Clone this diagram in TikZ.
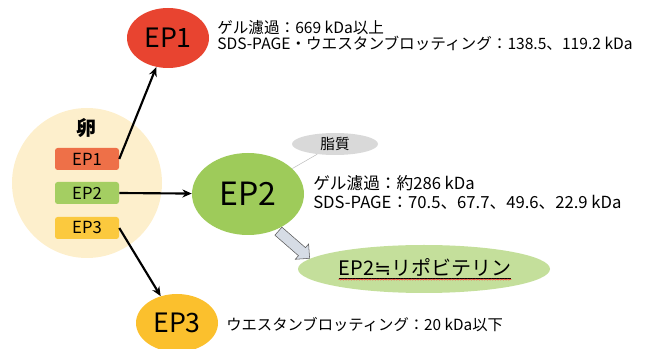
\documentclass[tikz,border=0pt]{standalone}
\usepackage{fontspec}
\setmainfont{Noto Sans CJK JP}
\newfontfamily\mathsym{DejaVu Sans}
\usetikzlibrary{shapes.geometric, shapes.arrows, arrows.meta, decorations.pathmorphing}
\definecolor{eggcream}{HTML}{FDEFCC}
\definecolor{tagred}{HTML}{EE7048}
\definecolor{taggreen}{HTML}{A4CE62}
\definecolor{tagyellow}{HTML}{FBC93E}
\definecolor{epred}{HTML}{E84430}
\definecolor{epgreen}{HTML}{9ECB5A}
\definecolor{epyellow}{HTML}{FBC02D}
\definecolor{lipogreen}{HTML}{C4DF9B}
\definecolor{fatgray}{HTML}{D9D9D9}
\definecolor{blockblue}{HTML}{D6DCE5}

\begin{document}
\begin{tikzpicture}[x=0.75pt, y=-0.75pt,
  blob/.style={ellipse, inner sep=0pt},
  tag/.style={rounded corners=2pt, minimum width=48pt, minimum height=16.5pt, inner sep=0pt, font=\fontsize{12.5}{12.5}\selectfont},
  info/.style={anchor=west, inner sep=0pt, font=\fontsize{11.7}{12}\selectfont},
  link/.style={line width=1.6pt, -{Stealth[length=7pt, width=6pt]}}]
\useasboundingbox (0,0) rectangle (662,349);

% egg
\node[circle, fill=eggcream, minimum size=112.5pt, inner sep=0pt] (egg) at (87,183) {};
\node[font=\fontsize{15}{15}\selectfont\bfseries] (eggname) at (86,128) {卵};
\node[tag, fill=tagred] (ep1box) at (87,159) {EP1};
\node[tag, fill=taggreen] (ep2box) at (87,193) {EP2};
\node[tag, fill=tagyellow] (ep3box) at (87,228) {EP3};

% fractions
\node[blob, fill=epred, minimum width=61.5pt, minimum height=45pt, font=\fontsize{20}{20}\selectfont] (ep1) at (168,38) {EP1};
\node[blob, fill=epgreen, minimum width=84pt, minimum height=61.5pt, font=\fontsize{24}{24}\selectfont] (ep2) at (248,194) {EP2};
\node[blob, fill=epyellow, minimum width=61.5pt, minimum height=43.5pt, font=\fontsize{20}{20}\selectfont] (ep3) at (177,323) {EP3};
\node[blob, fill=fatgray, minimum width=64.5pt, minimum height=16.5pt, font=\fontsize{11}{11}\selectfont] (lipid) at (335,144) {脂質};
\node[blob, fill=lipogreen, minimum width=189pt, minimum height=36pt] (lipo) at (424,269) {};
\node[inner sep=0pt, font=\fontsize{15}{15}\selectfont] (lipotext) at (425,267) {EP2{\mathsym ≒}リポビテリン};

% connectors
\draw[link] (ep1box.east) -- (ep1); % EP1 out
\draw[link] (ep2box.east) -- (ep2); % EP2 out
\draw[link] (ep3box.east) -- (ep3); % EP3 out
\draw[gray!50, thin] (ep2) -- (lipid);
\node[single arrow, draw=gray!70!black, fill=blockblue, thin, inner sep=3.8pt, minimum height=31pt, single arrow head extend=3.6pt, rotate=-41] (toward) at (292,243) {};
\draw ([yshift=-2.2pt]lipotext.base west) -- ([yshift=-2.2pt]lipotext.base east);
\draw[red!80, line width=0.4pt, decorate, decoration={snake, amplitude=0.4pt, segment length=2pt}] ([yshift=-3.4pt]lipotext.base west) -- ([yshift=-3.4pt]lipotext.base east);

% data
\node[info] (ep1gel) at (217,28) {ゲル濾過：669 kDa以上};
\node[info] (ep1sds) at (217,43) {SDS-PAGE・ウエスタンブロッティング：138.5、119.2 kDa};
\node[info, font=\fontsize{12.5}{13}\selectfont] (ep2gel) at (313,183) {ゲル濾過：約286 kDa};
\node[info, font=\fontsize{12.5}{13}\selectfont] (ep2sds) at (313,202) {SDS-PAGE：70.5、67.7、49.6、22.9 kDa};
\node[info, font=\fontsize{11.5}{12}\selectfont] (ep3wb) at (226,325) {ウエスタンブロッティング：20 kDa以下};
\end{tikzpicture}
\end{document}
